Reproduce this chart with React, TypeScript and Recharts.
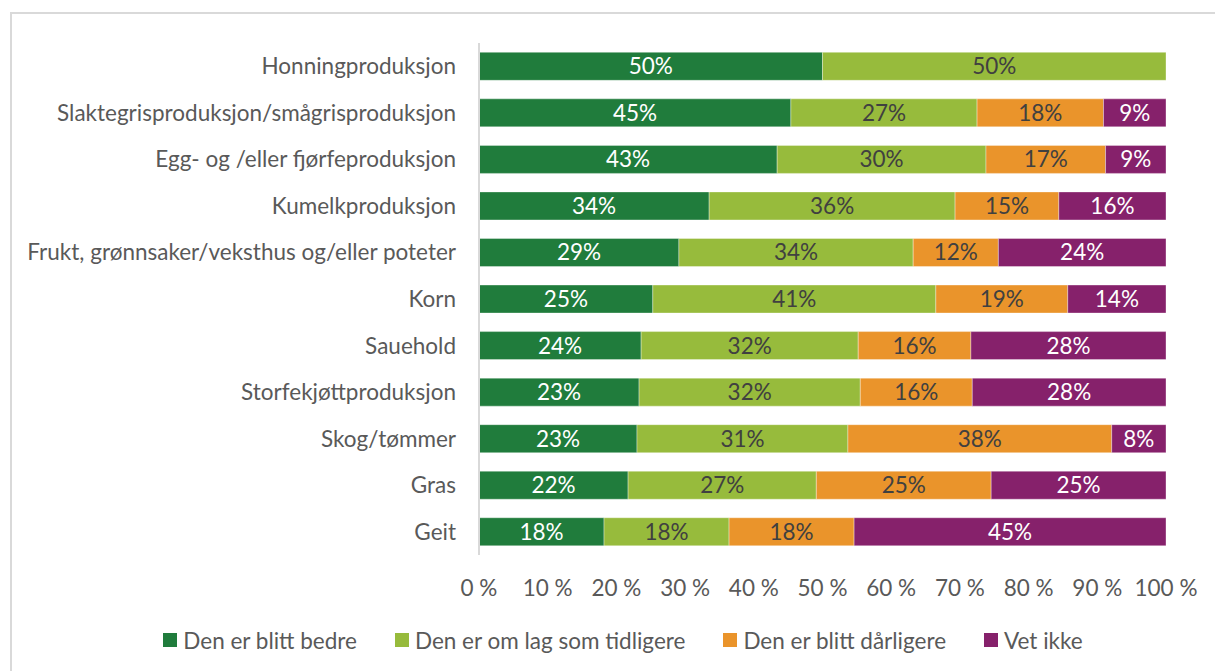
import { Bar, BarChart, LabelList, Legend, XAxis, YAxis } from 'recharts';

const categories = [
  'Honningproduksjon',
  'Slaktegrisproduksjon/smågrisproduksjon',
  'Egg- og /eller fjørfeproduksjon',
  'Kumelkproduksjon',
  'Frukt, grønnsaker/veksthus og/eller poteter',
  'Korn',
  'Sauehold',
  'Storfekjøttproduksjon',
  'Skog/tømmer',
  'Gras',
  'Geit',
];

const bedre = [50, 45.4, 43.4, 33.5, 29.1, 25.3, 23.6, 23.3, 23.0, 21.7, 18.2];
const somFoer = [50, 27.1, 30.4, 35.8, 34.1, 41.2, 31.6, 32.2, 30.7, 27.4, 18.2];
const daarligere = [0, 18.4, 17.4, 15.1, 12.4, 19.2, 16.4, 16.3, 38.4, 25.45, 18.2];
const vetIkke = [0, 9.1, 8.8, 15.6, 24.4, 14.3, 28.4, 28.2, 7.9, 25.45, 45.4];

const xTicks = [0, 10, 20, 30, 40, 50, 60, 70, 80, 90, 100];

const series = [
  { key: 'bedre', name: 'Den er blitt bedre', color: '#207c3c', text: '#ffffff' },
  { key: 'somFoer', name: 'Den er om lag som tidligere', color: '#97bb3c', text: '#404040' },
  { key: 'daarligere', name: 'Den er blitt dårligere', color: '#ea942b', text: '#404040' },
  { key: 'vetIkke', name: 'Vet ikke', color: '#86216b', text: '#ffffff' },
];

const data = categories.map((name, i) => ({
  name,
  bedre: bedre[i],
  somFoer: somFoer[i],
  daarligere: daarligere[i],
  vetIkke: vetIkke[i],
}));

const FONT = 'Lato, "Open Sans", sans-serif';
const FS = 22.5;

function LegendContent() {
  return (
    <div
      style={{
        display: 'flex',
        justifyContent: 'center',
        alignItems: 'center',
        height: 40,
        paddingLeft: 80,
        gap: 38,
        fontFamily: FONT,
        fontSize: FS,
        color: '#595959',
      }}
    >
      {series.map((s) => (
        <div key={s.key} style={{ display: 'flex', alignItems: 'center', gap: 6 }}>
          <span style={{ display: 'inline-block', width: 14, height: 14, background: s.color }} />
          <span>{s.name}</span>
        </div>
      ))}
    </div>
  );
}

export default function App() {
  return (
    <div style={{ position: 'absolute', left: 0, top: 0, width: 1215, height: 671, background: '#fff', overflow: 'hidden' }}>
      <div
        style={{
          position: 'absolute',
          left: 10,
          top: 12,
          width: 1240,
          height: 700,
          border: '2px solid #d9d9d9',
        }}
      />
      <BarChart
        width={1215}
        height={671}
        data={data}
        layout="vertical"
        barCategoryGap="20%"
        margin={{ top: 43, right: 49, bottom: 11, left: 0 }}
        style={{ position: 'absolute', left: 0, top: 0 }}
      >
        <XAxis
          type="number"
          domain={[0, 100]}
          ticks={xTicks}
          tickFormatter={(v) => `${v} %`}
          axisLine={false}
          tickLine={false}
          tick={{ fill: '#595959', fontSize: FS, fontFamily: FONT }}
          tickMargin={19}
          height={65}
        />
        <YAxis
          type="category"
          dataKey="name"
          width={479}
          axisLine={{ stroke: '#d9d9d9', strokeWidth: 2 }}
          tickLine={false}
          tick={{ fill: '#595959', fontSize: FS, fontFamily: FONT }}
          tickMargin={17}
          interval={0}
        />
        <Legend verticalAlign="bottom" height={40} content={<LegendContent />} />
        {series.map((s) => (
          <Bar
            key={s.key}
            dataKey={s.key}
            name={s.name}
            stackId="a"
            fill={s.color}
            stroke="#ffffff"
            strokeOpacity={0.35}
            strokeWidth={1}
            isAnimationActive={false}
          >
            <LabelList
              dataKey={s.key}
              position="center"
              formatter={(v: number) => (v > 0 ? `${Math.round(v)}%` : '')}
              style={{ fill: s.text, fontSize: FS, fontFamily: FONT }}
            />
          </Bar>
        ))}
      </BarChart>
    </div>
  );
}
